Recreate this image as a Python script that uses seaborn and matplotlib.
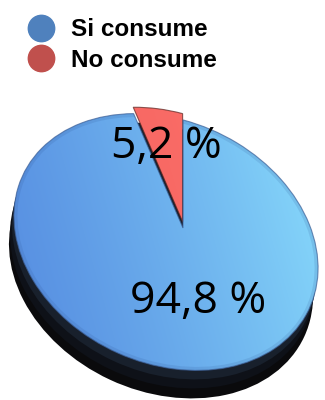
import numpy as np
import matplotlib.pyplot as plt
import matplotlib.transforms as mtransforms
from matplotlib.lines import Line2D
from matplotlib.patches import Ellipse, PathPatch
from matplotlib.path import Path
import seaborn as sns

# data
labels = ["Si consume", "No consume"]
shares = [94.8, 5.2]
pct_text = ["94,8 %", "5,2 %"]
legend_colors = ["#4f81bd", "#c0504d"]

sns.set_style("white")
plt.rcParams['font.family'] = ['Liberation Sans', 'DejaVu Sans']
plt.rcParams['text.color'] = 'black'

fig = plt.figure(figsize=(3.25, 4.0), dpi=100)
ax = fig.add_axes([0, 0, 1, 1])

# geometry of the tilted disc (pixels, y up)
cx, cy = 166, 158
semi_a, semi_b, tilt = 158, 121, -25
tip_px = np.array([183.0, 172.0])   # where the slices meet (perspective)

base = mtransforms.Affine2D().scale(semi_a, semi_b).rotate_deg(tilt)

def pie_tr(dx=0, dy=0):
    return base + mtransforms.Affine2D().translate(cx + dx, cy + dy) + ax.transData

# tip in unit-disc coordinates
tip = base.inverted().transform(tip_px - [cx, cy])

# start angle so that the small slice's first edge points straight up from the tip
phis = np.linspace(0, 360, 36001)
pts = base.transform(np.c_[np.cos(np.radians(phis)), np.sin(np.radians(phis))])
ok = pts[:, 1] > 0
idx = np.argmin(np.where(ok, np.abs(pts[:, 0] + cx - tip_px[0]), 1e9))
start = phis[idx]

# dark side of the disc
for dx, dy, col in [(-5, -28, "#0a0a0c"), (-4, -18, "#0e1118"), (-2, -9, "#18202c")]:
    ax.add_patch(Ellipse((0, 0), 2.0, 2.0, facecolor=col, edgecolor="none",
                         transform=pie_tr(dx, dy), zorder=1))

wedges, _ = ax.pie(shares[::-1], startangle=start, counterclock=True,
                   explode=[0.05, 0], radius=1, wedgeprops=dict(linewidth=0))

# move each wedge's apex to the perspective tip, keep the rim fixed
faces = []
for w in wedges:
    p = w.get_path()
    ctr = np.array(w.center)
    rel = p.vertices - ctr
    rad = np.hypot(rel[:, 0], rel[:, 1])
    new = ctr + rel + np.clip(1 - rad, 0, None)[:, None] * tip
    face = PathPatch(Path(new, p.codes), facecolor="none", edgecolor="none",
                     transform=pie_tr(), zorder=2)
    ax.add_patch(face)
    faces.append(face)
    w.set_visible(False)

# gradient fills clipped to the slices
gx, gy = np.meshgrid(np.linspace(0, 1, 200), np.linspace(0, 1, 240))
u = np.clip(0.85 * gx + 0.3 * gy - 0.12, 0, 1)
c0 = np.array([0x58, 0x90, 0xe2]) / 255
c1 = np.array([0x8e, 0xe4, 0xff]) / 255
blue_img = c0 + (c1 - c0) * u[..., None] ** 1.2
im = ax.imshow(blue_img, extent=(0, 325, 0, 400), origin="lower",
               aspect="auto", zorder=3, interpolation="bilinear")
im.set_clip_path(faces[1])

r0 = np.array([0xf2, 0x60, 0x5c]) / 255
r1 = np.array([0xff, 0x74, 0x6e]) / 255
red_img = r0 + (r1 - r0) * u[..., None]
im2 = ax.imshow(red_img, extent=(0, 325, 0, 400), origin="lower",
                aspect="auto", zorder=3, interpolation="bilinear")
im2.set_clip_path(faces[0])

# bevel: darker band inside the rim
rim = Ellipse((0, 0), 2.0, 2.0, fill=False, edgecolor="#2a4f90", linewidth=5,
              alpha=0.14, transform=pie_tr(), zorder=3.5)
ax.add_patch(rim)
rim.set_clip_path(faces[1])

# soft outlines on top
for f, ec in zip(faces, ["#5a2420", "#3d5f96"]):
    ol = PathPatch(f.get_path(), fill=False, edgecolor=ec, linewidth=0.8,
                   alpha=0.7, transform=f.get_transform(), zorder=4)
    ax.add_patch(ol)

# percentage labels
ax.text(198, 87, pct_text[0], fontsize=32, family=['Open Sans', 'DejaVu Sans'],
        color="black", ha="center", va="baseline", zorder=5)
ax.text(166, 242, pct_text[1], fontsize=32, family=['Open Sans', 'DejaVu Sans'],
        color="black", ha="center", va="baseline", zorder=5)

ax.set_xlim(0, 325)
ax.set_ylim(0, 400)
ax.set_aspect("auto")
ax.axis("off")

handles = [Line2D([], [], marker="o", linestyle="none", markersize=19,
                  markerfacecolor=c, markeredgecolor=c) for c in legend_colors]
leg = fig.legend(handles, labels, loc="upper left", bbox_to_anchor=(0.03, 0.997),
                 frameon=False, prop=dict(weight="bold", size=17.5),
                 handletextpad=0.6, labelspacing=0.3, borderpad=0.2,
                 handlelength=1.2)
for txt in leg.get_texts():
    txt.set_color("black")

fig.savefig("out.png", dpi=100)
